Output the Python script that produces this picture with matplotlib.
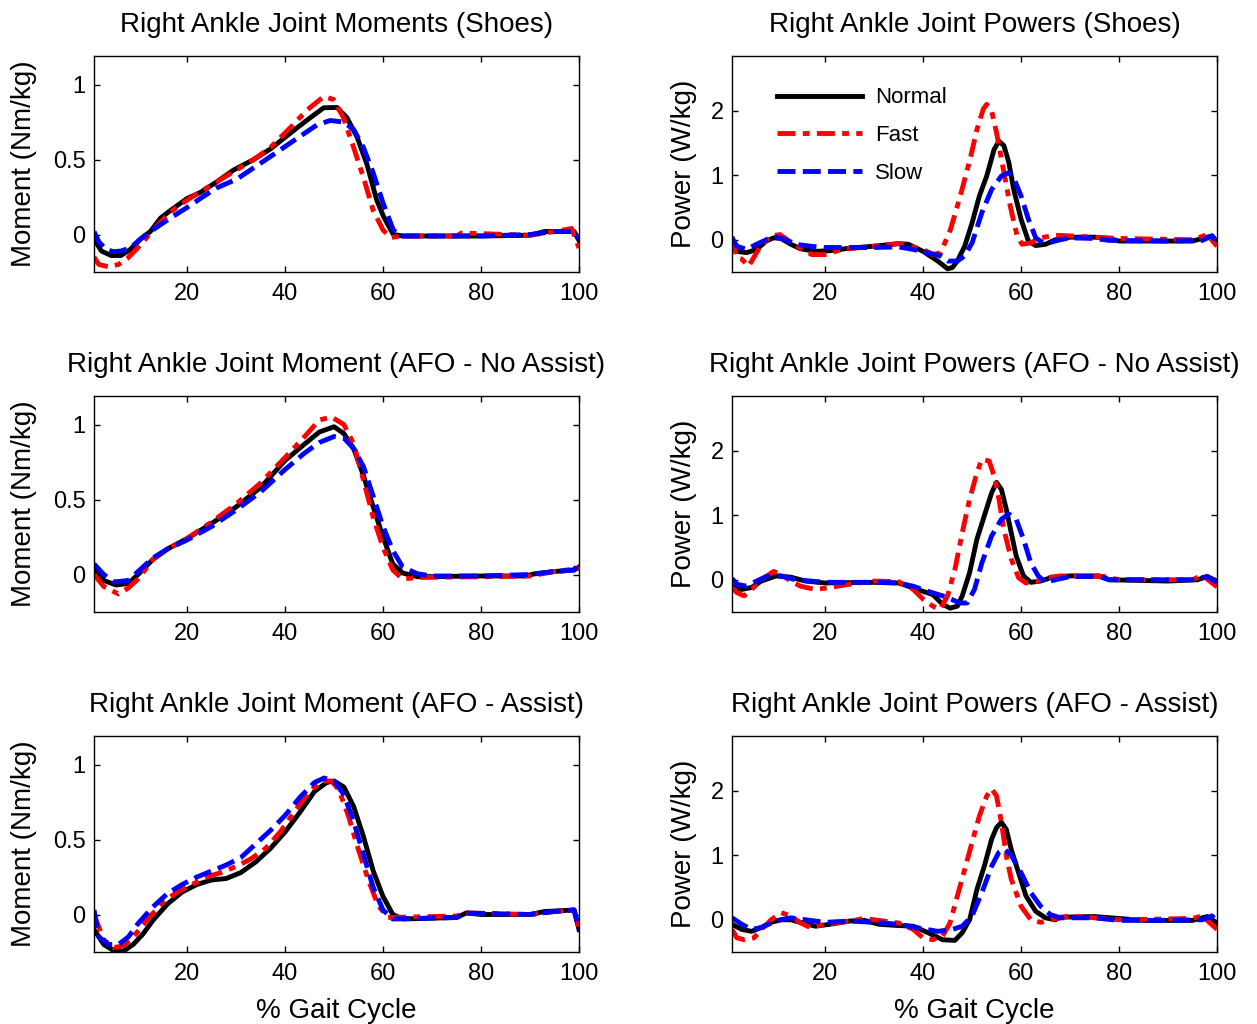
import matplotlib
matplotlib.use('Agg')
import matplotlib.pyplot as plt

plt.rcParams['font.family'] = ['Liberation Sans', 'DejaVu Sans']

# ---- Moments, Shoes ----
mom_shoes_normal_x = [1, 2.5, 4.5, 6.5, 8.4, 10.5, 12.5, 14.6, 16.6, 20, 22.7, 26, 29.5, 33.6, 37, 39.7, 42.4, 45.2, 47.9, 50.6, 52.6, 54.7, 56.7, 58.7, 60.1, 62.1, 64, 70, 80, 90, 93, 99, 100]
mom_shoes_normal = [-0.03, -0.11, -0.14, -0.14, -0.1, -0.03, 0.02, 0.11, 0.16, 0.24, 0.28, 0.35, 0.43, 0.5, 0.57, 0.64, 0.71, 0.78, 0.845, 0.847, 0.78, 0.65, 0.47, 0.23, 0.12, 0.0, -0.01, -0.01, -0.01, -0.005, 0.02, 0.02, -0.04]
mom_shoes_fast_x = [1, 2, 4, 6, 7.8, 10.5, 12.5, 16.6, 20, 26, 33.6, 37, 41, 44.5, 47.9, 49.9, 51.9, 54, 56, 58, 60, 61.5, 64, 75, 76, 90, 95, 98.5, 100]
mom_shoes_fast = [-0.15, -0.2, -0.215, -0.2, -0.16, -0.07, 0.01, 0.15, 0.23, 0.35, 0.5, 0.58, 0.71, 0.83, 0.92, 0.9, 0.78, 0.58, 0.38, 0.16, 0.03, -0.02, -0.01, -0.01, 0.01, -0.005, 0.02, 0.04, -0.09]
mom_shoes_slow_x = [1, 2, 3.5, 5, 6.5, 8.4, 10.5, 12.5, 16.6, 20, 22.7, 26, 30.2, 34.3, 38.4, 42.4, 46.5, 49.2, 51.9, 54, 56, 58, 60, 62.1, 63.5, 70, 80, 90, 95, 99, 100]
mom_shoes_slow = [0.02, -0.05, -0.1, -0.115, -0.11, -0.09, -0.03, 0.02, 0.11, 0.18, 0.24, 0.31, 0.37, 0.46, 0.55, 0.64, 0.73, 0.76, 0.75, 0.7, 0.58, 0.41, 0.21, 0.03, -0.01, -0.01, -0.01, 0.0, 0.02, 0.02, -0.03]

# ---- Moments, AFO no assist ----
mom_noas_normal_x = [1, 3, 5.5, 8, 10, 13, 16, 20, 25, 30, 35, 40, 44, 47, 50, 52, 54, 56, 58, 60, 62, 64, 67, 80, 89, 91, 95, 99, 100]
mom_noas_normal = [0.03, -0.04, -0.07, -0.06, 0.0, 0.1, 0.17, 0.24, 0.34, 0.45, 0.58, 0.76, 0.87, 0.95, 0.985, 0.94, 0.84, 0.66, 0.45, 0.25, 0.07, 0.01, -0.015, -0.01, -0.01, 0.005, 0.02, 0.03, 0.05]
mom_noas_fast_x = [1, 3, 6, 8, 10, 13, 16, 20, 25, 30, 35, 40, 44, 47, 49.5, 52, 54, 56, 58, 60, 62, 64, 67, 80, 90, 95, 100]
mom_noas_fast = [0.0, -0.08, -0.13, -0.09, -0.03, 0.1, 0.17, 0.24, 0.35, 0.47, 0.61, 0.78, 0.92, 1.03, 1.05, 1.0, 0.87, 0.63, 0.38, 0.18, 0.03, -0.03, -0.02, -0.015, -0.01, 0.02, 0.04]
mom_noas_slow_x = [1, 3, 5, 8, 10, 13, 16, 20, 25, 30, 35, 40, 44, 47, 50, 52, 54, 56, 58, 60, 62, 64, 67, 70, 80, 90, 95, 99, 100]
mom_noas_slow = [0.07, 0.0, -0.05, -0.04, 0.02, 0.11, 0.17, 0.23, 0.32, 0.43, 0.55, 0.7, 0.81, 0.88, 0.92, 0.91, 0.84, 0.72, 0.52, 0.32, 0.16, 0.05, 0.005, -0.01, -0.01, 0.0, 0.02, 0.03, 0.08]

# ---- Moments, AFO assist ----
mom_as_normal_x = [1, 3, 5, 7, 9, 11, 13, 16, 19, 22, 25, 28, 31, 34, 37, 40, 43, 46, 48.5, 50, 52, 54, 56, 58, 60, 62, 64, 75, 77, 80, 90, 93, 99, 100]
mom_as_normal = [-0.1, -0.2, -0.24, -0.245, -0.2, -0.13, -0.04, 0.07, 0.15, 0.2, 0.23, 0.24, 0.28, 0.35, 0.44, 0.55, 0.68, 0.82, 0.88, 0.89, 0.85, 0.72, 0.52, 0.29, 0.12, 0.0, -0.03, -0.02, 0.01, 0.0, 0.0, 0.02, 0.03, -0.1]
mom_as_fast_x = [1, 3, 5, 7, 9, 12, 15, 18, 21, 24, 27, 30, 33, 36, 39, 42, 45, 47.5, 49.5, 51, 53, 55, 57, 59, 61, 75, 77, 90, 95, 99, 100]
mom_as_fast = [0.0, -0.17, -0.22, -0.21, -0.15, -0.03, 0.08, 0.15, 0.2, 0.25, 0.28, 0.32, 0.37, 0.44, 0.55, 0.69, 0.82, 0.89, 0.89, 0.83, 0.65, 0.43, 0.23, 0.06, -0.02, -0.01, 0.01, 0.0, 0.02, 0.03, -0.08]
mom_as_slow_x = [1, 2, 4, 6, 8, 10, 13, 16, 19, 22, 25, 28, 31, 34, 37, 40, 43, 46, 48, 50, 52, 54, 56, 58, 60, 62, 75, 77, 90, 95, 99, 100]
mom_as_slow = [0.03, -0.15, -0.2, -0.2, -0.15, -0.06, 0.05, 0.14, 0.2, 0.25, 0.29, 0.33, 0.38, 0.47, 0.56, 0.66, 0.78, 0.88, 0.91, 0.89, 0.8, 0.62, 0.4, 0.18, 0.03, -0.03, -0.02, 0.01, 0.0, 0.02, 0.03, -0.1]

# ---- Powers, Shoes ----
pow_shoes_normal_x = [1, 2, 4, 6, 8, 9.5, 11, 13, 15, 18, 21, 25, 30, 35, 37, 40, 43, 45, 46, 47, 48.5, 50, 51.5, 53, 54.5, 55.5, 56.5, 57.5, 58.5, 60, 61.5, 63, 65, 67, 70, 75, 78, 80, 90, 95, 97, 99, 100]
pow_shoes_normal = [-0.1, -0.18, -0.2, -0.15, -0.02, 0.03, 0.02, -0.07, -0.14, -0.18, -0.17, -0.13, -0.1, -0.06, -0.07, -0.18, -0.33, -0.45, -0.43, -0.33, -0.1, 0.26, 0.68, 0.99, 1.4, 1.53, 1.46, 1.2, 0.78, 0.32, -0.02, -0.09, -0.07, 0.0, 0.04, 0.04, 0.02, -0.02, -0.02, -0.02, 0.02, 0.06, -0.04]
pow_shoes_fast_x = [1, 2, 3, 4.4, 6.8, 8.9, 10.8, 13.2, 17.3, 20, 23.4, 30, 35, 40, 42, 43.6, 45.6, 47.6, 49.6, 51, 52.3, 53, 54, 55, 56.4, 57.8, 59.2, 60.2, 61.9, 64, 67, 70, 80, 95, 98, 100]
pow_shoes_fast = [0.05, -0.28, -0.3, -0.41, -0.1, 0.06, 0.08, -0.05, -0.23, -0.23, -0.15, -0.1, -0.06, -0.15, -0.23, -0.2, 0.16, 0.68, 1.25, 1.71, 2.03, 2.1, 2.0, 1.66, 1.09, 0.52, 0.06, -0.07, -0.05, 0.03, 0.07, 0.06, 0.02, 0.0, 0.08, -0.1]
pow_shoes_slow_x = [1, 2, 4, 6, 8, 10, 12, 14, 17, 20, 25, 30, 35, 38, 41, 43.5, 45, 47, 48.5, 50, 52, 54, 56, 57.5, 58.5, 60, 61.5, 63, 64.5, 66, 68, 70, 75, 78, 90, 97, 99, 100]
pow_shoes_slow = [0.03, -0.1, -0.15, -0.07, 0.0, 0.04, 0.0, -0.07, -0.1, -0.12, -0.12, -0.12, -0.11, -0.15, -0.2, -0.25, -0.33, -0.33, -0.25, -0.05, 0.42, 0.78, 0.99, 1.04, 0.96, 0.68, 0.32, 0.03, -0.05, -0.04, 0.0, 0.03, 0.02, -0.01, -0.02, -0.01, 0.06, -0.04]

# ---- Powers, AFO no assist ----
pow_noas_normal_x = [1, 3, 5, 7, 10, 13, 16, 20, 30, 35, 37, 40, 42, 44, 45.5, 47, 48, 49.5, 51, 52.5, 54, 55, 56, 57, 58, 59, 60.5, 62, 64, 66, 70, 76, 78, 90, 96, 98, 100]
pow_noas_normal = [-0.1, -0.15, -0.12, -0.02, 0.06, 0.04, -0.02, -0.05, -0.04, -0.05, -0.1, -0.18, -0.23, -0.38, -0.44, -0.41, -0.25, 0.11, 0.63, 0.99, 1.35, 1.51, 1.4, 1.09, 0.73, 0.37, 0.06, -0.04, -0.02, 0.03, 0.06, 0.06, 0.0, -0.02, 0.0, 0.05, -0.02]
pow_noas_fast_x = [1, 2, 3.5, 5, 7, 9.5, 11, 13, 15, 18, 21, 25, 30, 35, 38, 40, 42, 43.5, 45, 46.5, 48, 49.5, 51, 52, 53.5, 54.5, 55.5, 56.5, 58, 59.5, 61, 63, 65, 68, 77, 80, 95, 97, 100]
pow_noas_fast = [-0.12, -0.2, -0.25, -0.15, 0.0, 0.13, 0.08, -0.02, -0.1, -0.15, -0.12, -0.07, -0.02, -0.03, -0.15, -0.3, -0.41, -0.46, -0.25, 0.16, 0.73, 1.25, 1.66, 1.87, 1.84, 1.61, 1.25, 0.78, 0.32, 0.03, -0.05, -0.03, 0.03, 0.06, 0.05, 0.0, 0.0, 0.07, -0.11]
pow_noas_slow_x = [1, 2, 4, 6, 8, 11, 14, 17, 20, 30, 35, 38, 41, 44, 46, 47.5, 49, 50.5, 52, 54, 56, 57.5, 59, 60.5, 62, 63.5, 65, 67, 70, 76, 78, 95, 98, 100]
pow_noas_slow = [0.02, -0.07, -0.1, -0.02, 0.05, 0.06, 0.0, -0.02, -0.04, -0.04, -0.05, -0.1, -0.18, -0.25, -0.31, -0.36, -0.36, -0.15, 0.26, 0.68, 0.94, 1.02, 0.94, 0.63, 0.26, 0.06, -0.04, 0.0, 0.05, 0.05, 0.0, 0.0, 0.05, -0.04]

# ---- Powers, AFO assist ----
pow_as_normal_x = [1, 3, 5, 7, 9, 11, 13, 15, 18, 21, 25, 28, 31, 35, 38, 41, 44, 46.5, 48, 49.5, 51, 52.5, 54, 55, 56, 57, 58, 59.5, 61, 63, 65, 67, 68, 75, 80, 85, 95, 98, 100]
pow_as_normal = [-0.07, -0.15, -0.18, -0.12, -0.04, 0.0, 0.0, -0.04, -0.1, -0.07, -0.02, -0.01, -0.07, -0.09, -0.1, -0.2, -0.31, -0.32, -0.2, 0.0, 0.47, 0.83, 1.25, 1.43, 1.51, 1.4, 1.09, 0.73, 0.37, 0.13, 0.03, 0.0, 0.04, 0.05, 0.02, -0.01, -0.01, 0.05, -0.05]
pow_as_fast_x = [1, 2, 3.5, 5.5, 7, 9, 11, 13, 15, 17, 20, 25, 28, 32, 35, 38, 40, 42, 44, 45.5, 47, 48.5, 50, 51.5, 53, 54, 55, 56, 57, 58, 60, 62, 64, 66, 70, 75, 80, 95, 97, 100]
pow_as_fast = [-0.15, -0.28, -0.31, -0.28, -0.15, 0.0, 0.11, 0.06, -0.05, -0.12, -0.07, -0.02, 0.02, -0.02, -0.05, -0.15, -0.28, -0.31, -0.25, -0.05, 0.37, 0.78, 1.2, 1.61, 1.92, 2.03, 1.92, 1.51, 0.99, 0.63, 0.21, 0.0, -0.04, 0.0, 0.06, 0.03, 0.0, 0.02, 0.06, -0.15]
pow_as_slow_x = [1, 3, 5, 7, 9, 11, 13, 16, 20, 25, 30, 35, 40, 43, 46, 48, 50, 52, 54, 55.5, 56.5, 58, 60, 62, 64, 66, 68, 75, 80, 90, 97, 99, 100]
pow_as_slow = [0.03, -0.07, -0.15, -0.12, -0.05, 0.0, 0.03, 0.0, -0.04, -0.02, -0.04, -0.07, -0.14, -0.18, -0.15, -0.1, 0.06, 0.42, 0.83, 1.05, 1.1, 1.0, 0.73, 0.42, 0.21, 0.08, 0.03, 0.03, -0.01, -0.01, 0.0, 0.06, -0.04]

left_titles = ['Right Ankle Joint Moments (Shoes)',
               'Right Ankle Joint Moment (AFO - No Assist)',
               'Right Ankle Joint Moment (AFO - Assist)']
right_titles = ['Right Ankle Joint Powers (Shoes)',
                'Right Ankle Joint Powers (AFO - No Assist)',
                'Right Ankle Joint Powers (AFO - Assist)']
labels = ['Normal', 'Fast', 'Slow']
xticks = [20, 40, 60, 80, 100]

moment_data = [
    [(mom_shoes_normal_x, mom_shoes_normal), (mom_shoes_fast_x, mom_shoes_fast), (mom_shoes_slow_x, mom_shoes_slow)],
    [(mom_noas_normal_x, mom_noas_normal), (mom_noas_fast_x, mom_noas_fast), (mom_noas_slow_x, mom_noas_slow)],
    [(mom_as_normal_x, mom_as_normal), (mom_as_fast_x, mom_as_fast), (mom_as_slow_x, mom_as_slow)],
]
power_data = [
    [(pow_shoes_normal_x, pow_shoes_normal), (pow_shoes_fast_x, pow_shoes_fast), (pow_shoes_slow_x, pow_shoes_slow)],
    [(pow_noas_normal_x, pow_noas_normal), (pow_noas_fast_x, pow_noas_fast), (pow_noas_slow_x, pow_noas_slow)],
    [(pow_as_normal_x, pow_as_normal), (pow_as_fast_x, pow_as_fast), (pow_as_slow_x, pow_as_slow)],
]

styles = [dict(color='black', linestyle='-'),
          dict(color='red', dashes=(3.7, 1.5, 1.4, 1.5)),
          dict(color='blue', dashes=(3.7, 1.5))]

fig = plt.figure(figsize=(12.57, 10.24), dpi=100)

W, H = 1257, 1024
col_left = [94, 732]
row_top = [56, 396, 736]
ax_w, ax_h = 485, 216


def style_axes(ax):
    ax.tick_params(direction='in', top=True, right=True, length=4, width=1,
                   labelsize=17, pad=8)
    ax.tick_params(axis='y', pad=6)
    for s in ax.spines.values():
        s.set_linewidth(1.0)
    ax.set_xlim(1, 100)
    ax.set_xticks(xticks)


for r in range(3):
    # moments
    ax = fig.add_axes([col_left[0] / W, 1 - (row_top[r] + ax_h) / H, ax_w / W, ax_h / H])
    for (x, y), st, lab in zip(moment_data[r], styles, labels):
        ax.plot(x, y, linewidth=3.5, label=lab, **st)
    style_axes(ax)
    ax.set_ylim(-0.25, 1.19)
    ax.set_yticks([0, 0.5, 1])
    ax.set_yticklabels(['0', '0.5', '1'])
    ax.set_title(left_titles[r], fontsize=20, pad=17)
    ax.set_ylabel('Moment (Nm/kg)', fontsize=20)
    ax.yaxis.set_label_coords(-0.117, 0.5)
    if r == 2:
        ax.set_xlabel('% Gait Cycle', fontsize=20, labelpad=9)

    # powers
    ax = fig.add_axes([col_left[1] / W, 1 - (row_top[r] + ax_h) / H, ax_w / W, ax_h / H])
    for (x, y), st, lab in zip(power_data[r], styles, labels):
        ax.plot(x, y, linewidth=3.5, label=lab, **st)
    style_axes(ax)
    ax.set_ylim(-0.5, 2.85)
    ax.set_yticks([0, 1, 2])
    ax.set_title(right_titles[r], fontsize=20, pad=17)
    ax.set_ylabel('Power (W/kg)', fontsize=20)
    ax.yaxis.set_label_coords(-0.072, 0.5)
    if r == 2:
        ax.set_xlabel('% Gait Cycle', fontsize=20, labelpad=9)
    if r == 0:
        ax.legend(loc='upper left', bbox_to_anchor=(0.093, 0.855), frameon=False,
                  fontsize=16, handlelength=3.8, handletextpad=0.6,
                  labelspacing=0.75, borderpad=0, borderaxespad=0)

fig.savefig('out.png', dpi=100)
